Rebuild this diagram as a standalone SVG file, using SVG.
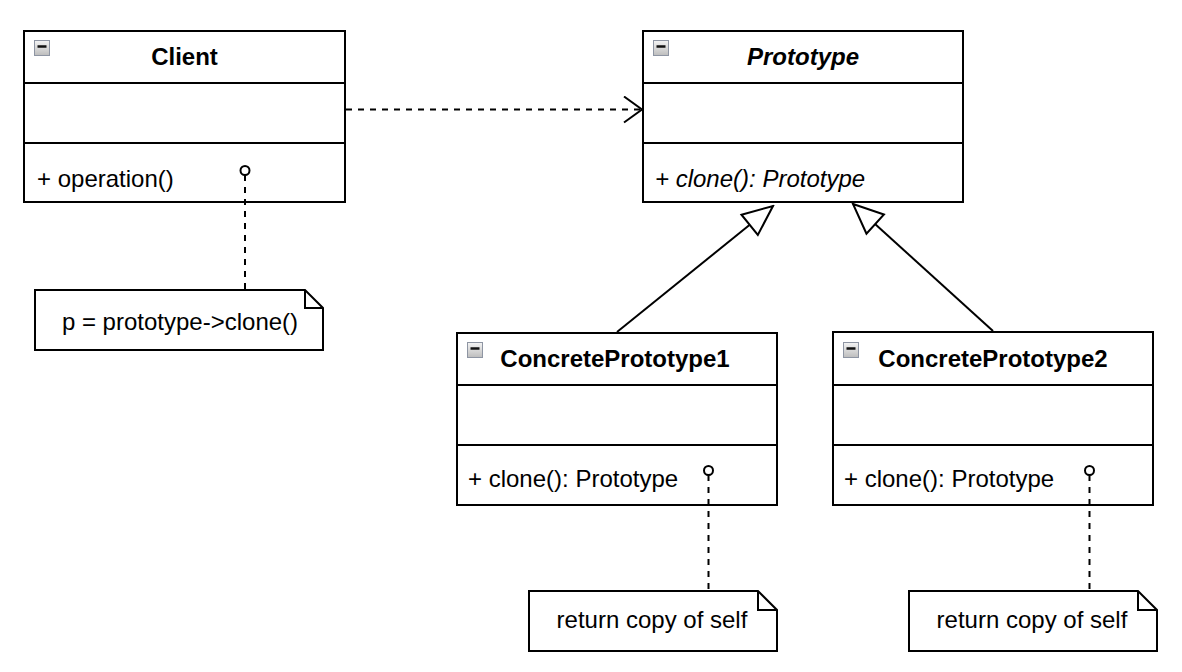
<svg xmlns="http://www.w3.org/2000/svg" width="1182" height="672" viewBox="0 0 1182 672">
<defs>
<linearGradient id="ig" x1="0" y1="0" x2="0" y2="1">
<stop offset="0" stop-color="#f4f4f4"/>
<stop offset="1" stop-color="#bdbdbd"/>
</linearGradient>
<marker id="open" viewBox="0 0 20 28" refX="19" refY="14" markerWidth="20" markerHeight="28" markerUnits="userSpaceOnUse" orient="auto">
<path d="M1,1 L19,14 L1,27" fill="none" stroke="#000" stroke-width="2"/>
</marker>
<marker id="tri" viewBox="0 0 34 30" refX="32" refY="15" markerWidth="34" markerHeight="30" markerUnits="userSpaceOnUse" orient="auto">
<path d="M2,2 L32,15 L2,28 Z" fill="#fff" stroke="#000" stroke-width="2"/>
</marker>
</defs>
<style>
.box{fill:#fff;stroke:#000;stroke-width:2}
.ln{stroke:#000;stroke-width:2;fill:none}
.dash{stroke:#000;stroke-width:2;fill:none;stroke-dasharray:6,6}
.t{font-family:"Liberation Sans",Arial,Helvetica,sans-serif;font-size:24px;fill:#000}
.b{font-weight:bold}
.i{font-style:italic}
.m{text-anchor:middle}
.ic{fill:url(#ig);stroke:#8e95a3;stroke-width:1}
.icm{stroke:#111;stroke-width:2.5}
.lol{fill:#fff;stroke:#000;stroke-width:2}
</style>
<rect width="1182" height="672" fill="#fff"/>

<g id="client">
<rect class="box" x="24" y="31" width="321" height="171"/>
<line class="ln" x1="24" y1="83" x2="345" y2="83"/>
<line class="ln" x1="24" y1="143" x2="345" y2="143"/>
<rect class="ic" x="34.5" y="40.5" width="15" height="15"/>
<line class="icm" x1="37.5" y1="46.5" x2="46.5" y2="46.5"/>
<text class="t b m" x="184.5" y="65">Client</text>
<text class="t" x="37" y="187">+ operation()</text>
</g>

<g id="prototype">
<rect class="box" x="643" y="31" width="320" height="171"/>
<line class="ln" x1="643" y1="83" x2="963" y2="83"/>
<line class="ln" x1="643" y1="143" x2="963" y2="143"/>
<rect class="ic" x="653.5" y="40.5" width="15" height="15"/>
<line class="icm" x1="656.5" y1="46.5" x2="665.5" y2="46.5"/>
<text class="t b i m" x="803" y="65">Prototype</text>
<text class="t i" x="655" y="187">+ clone(): Prototype</text>
</g>

<g id="cp1">
<rect class="box" x="457" y="333" width="320" height="172"/>
<line class="ln" x1="457" y1="385" x2="777" y2="385"/>
<line class="ln" x1="457" y1="445" x2="777" y2="445"/>
<rect class="ic" x="467.5" y="342.5" width="15" height="15"/>
<line class="icm" x1="470.5" y1="348.5" x2="479.5" y2="348.5"/>
<text class="t b m" x="615" y="367">ConcretePrototype1</text>
<text class="t" x="468" y="487">+ clone(): Prototype</text>
</g>

<g id="cp2">
<rect class="box" x="833" y="332" width="320" height="173"/>
<line class="ln" x1="833" y1="385" x2="1153" y2="385"/>
<line class="ln" x1="833" y1="445" x2="1153" y2="445"/>
<rect class="ic" x="843.5" y="342.5" width="15" height="15"/>
<line class="icm" x1="846.5" y1="348.5" x2="855.5" y2="348.5"/>
<text class="t b m" x="993" y="367">ConcretePrototype2</text>
<text class="t" x="844" y="487">+ clone(): Prototype</text>
</g>

<g id="note-client">
<path class="box" d="M35,290 H305 L323,308 V350 H35 Z"/>
<path class="ln" d="M305,290 V308 H323"/>
<text class="t m" x="180" y="330">p = prototype-&gt;clone()</text>
</g>

<g id="note-cp1">
<path class="box" d="M529,591 H758 L777,610 V651 H529 Z"/>
<path class="ln" d="M758,591 V610 H777"/>
<text class="t m" x="652" y="628">return copy of self</text>
</g>

<g id="note-cp2">
<path class="box" d="M909,591 H1138 L1157,610 V651 H909 Z"/>
<path class="ln" d="M1138,591 V610 H1157"/>
<text class="t m" x="1032" y="628">return copy of self</text>
</g>

<g id="connectors">
<line class="dash" x1="346" y1="109.5" x2="642" y2="109.5" marker-end="url(#open)"/>
<line class="ln" x1="617" y1="332" x2="773" y2="206" marker-end="url(#tri)"/>
<line class="ln" x1="993" y1="331" x2="853" y2="204" marker-end="url(#tri)"/>
<line class="dash" x1="245" y1="175" x2="245" y2="290"/>
<line class="dash" x1="708.5" y1="475" x2="708.5" y2="591"/>
<line class="dash" x1="1089.5" y1="475" x2="1089.5" y2="591"/>
<circle class="lol" cx="245" cy="170.5" r="4.5"/>
<circle class="lol" cx="708.5" cy="470.5" r="4.5"/>
<circle class="lol" cx="1089.5" cy="470.5" r="4.5"/>
</g>
</svg>
